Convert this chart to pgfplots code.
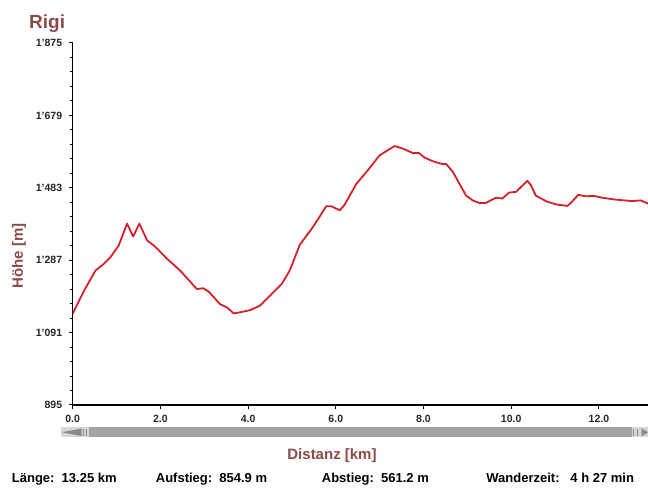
\documentclass[border=0pt]{standalone}
\usepackage{fontspec}
\setmainfont{Liberation Sans}
\usepackage{pgfplots}
\pgfplotsset{compat=1.18}

\definecolor{profil}{HTML}{D42029}
\definecolor{titel}{HTML}{8C4A4A}
\definecolor{balken}{HTML}{A3A3A3}
\definecolor{balkenhell}{HTML}{D6D6D6}
\definecolor{balkendunkel}{HTML}{8A8A8A}

\begin{document}
\begin{tikzpicture}[x=1pt,y=1pt]
  \useasboundingbox (-72.7,-84) rectangle (575.3,405);
  \begin{axis}[
    at={(0,0)}, anchor=south west,
    scale only axis,
    width=575.3pt, height=362pt,
    xmin=0, xmax=13.12,
    ymin=895, ymax=1875,
    axis lines=left,
    axis line style={line width=1.1pt, -},
    tick align=outside,
    tick style={black, line width=1pt},
    major tick length=4pt,
    minor tick length=2.5pt,
    xtick={0,2,4,6,8,10,12},
    xticklabels={0.0,2.0,4.0,6.0,8.0,10.0,12.0},
    ytick={895,1091,1287,1483,1679,1875},
    yticklabels={895,1'091,1'287,1'483,1'679,1'875},
    minor ytick={934.2,973.4,1012.6,1051.8,1130.2,1169.4,1208.6,1247.8,1326.2,1365.4,1404.6,1443.8,1522.2,1561.4,1600.6,1639.8,1718.2,1757.4,1796.6,1835.8},
    ticklabel style={font=\bfseries\fontsize{10.5}{11}\selectfont, text=black!85},
    xticklabel style={anchor=north, yshift=-2.5pt},
    yticklabel style={anchor=east, xshift=-3pt},
    clip=true,
  ]
    \addplot[profil, line width=1.8pt, line join=round] coordinates {
      (0.0,1142) (0.18,1186) (0.30,1213) (0.52,1259) (0.71,1277) (0.86,1295)
      (1.05,1327) (1.24,1386) (1.38,1351) (1.52,1386) (1.70,1340) (1.85,1327)
      (2.15,1291) (2.45,1259) (2.83,1209) (2.98,1211) (3.10,1202) (3.36,1168)
      (3.52,1159) (3.67,1143) (3.82,1146) (4.05,1152) (4.27,1164) (4.50,1191)
      (4.77,1223) (4.95,1259) (5.18,1329) (5.45,1372) (5.60,1399) (5.78,1433)
      (5.90,1433) (6.09,1422) (6.20,1437) (6.47,1494) (6.70,1526) (7.00,1571)
      (7.34,1596) (7.53,1589) (7.76,1577) (7.90,1577) (8.02,1565) (8.21,1555)
      (8.40,1548) (8.52,1547) (8.67,1526) (8.82,1494) (8.97,1462) (9.12,1449)
      (9.27,1442) (9.42,1442) (9.65,1456) (9.80,1454) (9.95,1470) (10.11,1472)
      (10.37,1502) (10.45,1490) (10.56,1462) (10.79,1447) (11.02,1438) (11.28,1434)
      (11.36,1442) (11.53,1464) (11.70,1460) (11.89,1461) (12.08,1456) (12.38,1451)
      (12.76,1447) (12.95,1449) (13.09,1442) (13.25,1435)
    };
  \end{axis}

  % scroll bar below the x axis
  \fill[balkenhell] (-12,-32.3) rectangle (16.6,-22.3);
  \fill[balkendunkel] (-11,-27.3) -- (9,-23.5) -- (9,-31.1) -- cycle;
  \draw[balkendunkel, line width=1pt] (11,-31) -- (11,-23.6) (14.3,-31) -- (14.3,-23.6);
  \fill[balken] (16.6,-32.3) rectangle (559,-22.3);
  \fill[balkenhell] (559,-32.3) rectangle (575.3,-22.3);
  \draw[balkendunkel, line width=1pt] (560.8,-31) -- (560.8,-23.6) (564.3,-31) -- (564.3,-23.6);
  \fill[balkendunkel] (575.3,-27.3) -- (569,-23.5) -- (569,-31.1) -- cycle;

  % titles and labels
  \node[anchor=base west, inner sep=0pt, text=titel, font=\bfseries\fontsize{19}{20}\selectfont] at (-43.7,376.7) {Rigi};
  \node[rotate=90, inner sep=0pt, text=titel, font=\bfseries\fontsize{15}{16}\selectfont] at (-53.7,149) {Höhe [m]};
  \node[inner sep=0pt, text=titel, font=\bfseries\fontsize{15}{16}\selectfont] at (259.3,-51) {Distanz [km]};

  % summary line
  \begin{scope}[every node/.style={anchor=base west, inner sep=0pt, font=\bfseries\fontsize{13}{14}\selectfont}]
    \node at (-61,-77.7) {Länge:\ \ 13.25 km};
    \node at (83,-77.7) {Aufstieg:\ \ 854.9 m};
    \node at (249,-77.7) {Abstieg:\ \ 561.2 m};
    \node at (413.5,-77.7) {Wanderzeit:\ \ \ 4 h 27 min};
  \end{scope}
\end{tikzpicture}
\end{document}
